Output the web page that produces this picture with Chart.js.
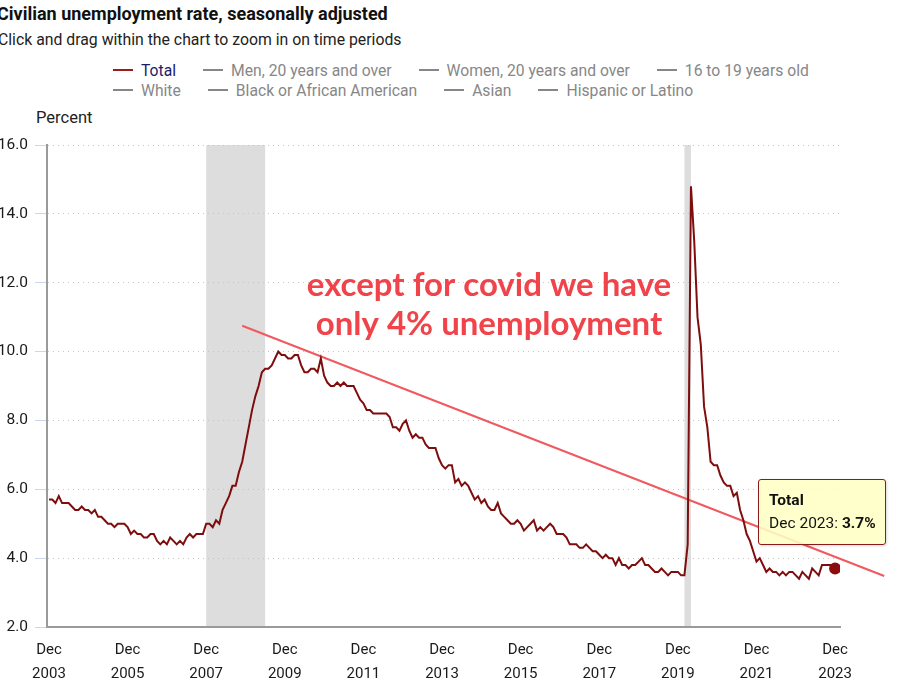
<!DOCTYPE html>
<html>
<head>
<meta charset="utf-8">
<script src="https://cdn.jsdelivr.net/npm/chart.js@4.4.1/dist/chart.umd.min.js"></script>
<style>
  html, body { margin: 0; padding: 0; background: #fff; }
  body { width: 906px; height: 698px; position: relative; overflow: hidden; font-family: Roboto, "Noto Sans", sans-serif; }
  #titulo { position: absolute; left: -3px; top: 3px; font-size: 18px; font-weight: 700; color: #111; white-space: nowrap; }
  #subtitulo { position: absolute; left: -2px; top: 30px; font-size: 15.8px; color: #222; white-space: nowrap; }
  #leyenda { position: absolute; left: 113px; top: 60px; font-size: 15.7px; color: #878787; }
  .fila { display: flex; height: 20px; align-items: center; white-space: nowrap; }
  .item { display: flex; align-items: center; margin-right: 27px; }
  .raya { width: 20px; height: 2px; background: #878787; margin-right: 8px; }
  #unidad { position: absolute; left: 36px; top: 108px; font-size: 16.5px; color: #222; }
  #cv { position: absolute; left: 0; top: 0; }
  #tip { position: absolute; display: none; width: 128px; height: 66px; box-sizing: border-box;
         background: rgba(255,255,196,0.88); border: 1px solid #8b1a1a; border-radius: 3px;
         box-shadow: 1px 1px 3px rgba(0,0,0,0.15); padding: 9px 0 0 10px; font-size: 15.5px; color: #111; line-height: 23px; }
</style>
</head>
<body>
<div id="titulo">Civilian unemployment rate, seasonally adjusted</div>
<div id="subtitulo">Click and drag within the chart to zoom in on time periods</div>
<div id="leyenda"></div>
<div id="unidad">Percent</div>
<canvas id="cv" width="906" height="698"></canvas>
<div id="tip"></div>
<script>
// Tasa de desempleo mensual, dic 2003 – dic 2023 (índice 0 = dic 2003)
const tasa2003 = [5.7];
const tasa2004 = [5.7, 5.6, 5.8, 5.6, 5.6, 5.6, 5.5, 5.4, 5.4, 5.5, 5.4, 5.4];
const tasa2005 = [5.3, 5.4, 5.2, 5.2, 5.1, 5.0, 5.0, 4.9, 5.0, 5.0, 5.0, 4.9];
const tasa2006 = [4.7, 4.8, 4.7, 4.7, 4.6, 4.6, 4.7, 4.7, 4.5, 4.4, 4.5, 4.4];
const tasa2007 = [4.6, 4.5, 4.4, 4.5, 4.4, 4.6, 4.7, 4.6, 4.7, 4.7, 4.7, 5.0];
const tasa2008 = [5.0, 4.9, 5.1, 5.0, 5.4, 5.6, 5.8, 6.1, 6.1, 6.5, 6.8, 7.3];
const tasa2009 = [7.8, 8.3, 8.7, 9.0, 9.4, 9.5, 9.5, 9.6, 9.8, 10.0, 9.9, 9.9];
const tasa2010 = [9.8, 9.8, 9.9, 9.9, 9.6, 9.4, 9.4, 9.5, 9.5, 9.4, 9.8, 9.3];
const tasa2011 = [9.1, 9.0, 9.0, 9.1, 9.0, 9.1, 9.0, 9.0, 9.0, 8.8, 8.6, 8.5];
const tasa2012 = [8.3, 8.3, 8.2, 8.2, 8.2, 8.2, 8.2, 8.1, 7.8, 7.8, 7.7, 7.9];
const tasa2013 = [8.0, 7.7, 7.5, 7.6, 7.5, 7.5, 7.3, 7.2, 7.2, 7.2, 6.9, 6.7];
const tasa2014 = [6.6, 6.7, 6.7, 6.2, 6.3, 6.1, 6.2, 6.1, 5.9, 5.7, 5.8, 5.6];
const tasa2015 = [5.7, 5.5, 5.4, 5.4, 5.6, 5.3, 5.2, 5.1, 5.0, 5.0, 5.1, 5.0];
const tasa2016 = [4.8, 4.9, 5.0, 5.1, 4.8, 4.9, 4.8, 4.9, 5.0, 4.9, 4.7, 4.7];
const tasa2017 = [4.7, 4.6, 4.4, 4.4, 4.4, 4.3, 4.3, 4.4, 4.3, 4.2, 4.2, 4.1];
const tasa2018 = [4.0, 4.1, 4.0, 4.0, 3.8, 4.0, 3.8, 3.8, 3.7, 3.8, 3.8, 3.9];
const tasa2019 = [4.0, 3.8, 3.8, 3.7, 3.6, 3.6, 3.7, 3.6, 3.5, 3.6, 3.6, 3.6];
const tasa2020 = [3.5, 3.5, 4.4, 14.8, 13.2, 11.0, 10.2, 8.4, 7.8, 6.8, 6.7, 6.7];
const tasa2021 = [6.4, 6.2, 6.1, 6.1, 5.8, 5.9, 5.4, 5.1, 4.7, 4.5, 4.2, 3.9];
const tasa2022 = [4.0, 3.8, 3.6, 3.7, 3.6, 3.6, 3.5, 3.6, 3.5, 3.6, 3.6, 3.5];
const tasa2023 = [3.4, 3.6, 3.5, 3.4, 3.7, 3.6, 3.5, 3.8, 3.8, 3.8, 3.8, 3.7];

const tasaTotal = [].concat(tasa2003, tasa2004, tasa2005, tasa2006, tasa2007, tasa2008, tasa2009,
  tasa2010, tasa2011, tasa2012, tasa2013, tasa2014, tasa2015, tasa2016, tasa2017, tasa2018,
  tasa2019, tasa2020, tasa2021, tasa2022, tasa2023);

// Ticks del eje X (meses desde dic 2003) y sus años
const ticksMes  = [0, 24, 48, 72, 96, 120, 144, 168, 192, 216, 240];
const ticksAnio = ["2003", "2005", "2007", "2009", "2011", "2013", "2015", "2017", "2019", "2021", "2023"];
const ticksY    = [2, 4, 6, 8, 10, 12, 14, 16];

// Recesiones (índice de mes inicio / fin)
const recesionIni = [48, 194];
const recesionFin = [66, 196];

// Línea de tendencia dibujada a mano (extremos en meses / %)
const tendenciaX = [59, 255];
const tendenciaY = [10.75, 3.48];

const notaTexto = ["except for covid we have", "only 4% unemployment"];

const seriesLeyenda = [
  ["Total", "Men, 20 years and over", "Women, 20 years and over", "16 to 19 years old"],
  ["White", "Black or African American", "Asian", "Hispanic or Latino"],
];

// --- leyenda HTML ---
document.getElementById("leyenda").innerHTML = seriesLeyenda.map((fila) =>
  `<div class="fila">${fila.map((n) => n === "Total"
    ? `<span class="item"><span class="raya" style="background:#9b1b1b"></span><span style="color:#1c1c6b">${n}</span></span>`
    : `<span class="item"><span class="raya"></span>${n}</span>`).join("")}</div>`).join("");

const bandasPlugin = {
  id: "bandas",
  beforeDraw(chart) {
    const { ctx, chartArea, scales } = chart;
    ctx.save();
    ctx.fillStyle = "#dddddd";
    recesionIni.forEach((ini, i) => {
      const x1 = scales.x.getPixelForValue(ini);
      const x2 = scales.x.getPixelForValue(recesionFin[i]);
      ctx.fillRect(x1, chartArea.top, x2 - x1, chartArea.bottom - chartArea.top);
    });
    ctx.restore();
  },
};

const notaPlugin = {
  id: "nota",
  afterDatasetsDraw(chart) {
    const { ctx } = chart;
    ctx.save();
    ctx.fillStyle = "#f0434a";
    ctx.font = "700 33px Lato, 'Open Sans', sans-serif";
    ctx.textAlign = "center";
    ctx.textBaseline = "alphabetic";
    ctx.fillText(notaTexto[0], 489, 296);
    ctx.fillText(notaTexto[1], 489, 335);
    ctx.restore();
  },
};

const tipEl = document.getElementById("tip");
function tooltipExterno({ chart, tooltip }) {
  if (!tooltip.opacity || !tooltip.dataPoints?.length) { tipEl.style.display = "none"; return; }
  const p = tooltip.dataPoints[0];
  if (p.datasetIndex !== 0) return;
  const anio = 2003 + Math.floor(p.parsed.x / 12);
  tipEl.innerHTML = `<b>Total</b><br>Dec ${anio}: <b>${p.parsed.y.toFixed(1)}%</b>`;
  tipEl.style.display = "block";
  tipEl.style.left = (tooltip.caretX - 77) + "px";
  tipEl.style.top  = (tooltip.caretY - 89) + "px";
}

const ultimo = tasaTotal.length - 1;

const chart = new Chart(document.getElementById("cv").getContext("2d"), {
  type: "line",
  plugins: [bandasPlugin, notaPlugin],
  data: {
    datasets: [
      {
        label: "Total",
        data: tasaTotal.map((v, i) => ({ x: i, y: v })),
        borderColor: "#7e0d0d",
        backgroundColor: "#8b0c0c",
        borderWidth: 2,
        pointRadius: (c) => (c.dataIndex === ultimo ? 6 : 0),
        pointHoverRadius: (c) => (c.dataIndex === ultimo ? 6 : 0),
        pointBorderWidth: 0,
        tension: 0,
      },
      {
        label: "tendencia",
        data: tendenciaX.map((x, i) => ({ x, y: tendenciaY[i] })),
        borderColor: "#f0595e",
        borderWidth: 2,
        pointRadius: 0,
        pointHoverRadius: 0,
        clip: false,
      },
    ],
  },
  options: {
    responsive: false,
    animation: false,
    events: [],
    layout: { padding: { top: 145, right: 66, bottom: 0, left: 0 } },
    plugins: {
      legend: { display: false },
      tooltip: { enabled: false, external: tooltipExterno, mode: "nearest", intersect: false },
    },
    scales: {
      x: {
        type: "linear",
        min: -0.6,
        max: 241.5,
        afterFit: (s) => { s.height = 71; },
        afterBuildTicks: (s) => { s.ticks = ticksMes.map((v) => ({ value: v })); },
        grid: { display: false },
        border: { color: "#9a9a9a", width: 2 },
        ticks: {
          color: "#1a1a1a",
          font: { family: "Roboto", size: 15, lineHeight: 1.55 },
          padding: 4,
          maxRotation: 0,
          autoSkip: false,
          callback: (v) => ["Dec", ticksAnio[ticksMes.indexOf(v)]],
        },
      },
      y: {
        min: 2,
        max: 16,
        afterFit: (s) => { s.width = 47; },
        afterBuildTicks: (s) => { s.ticks = ticksY.map((v) => ({ value: v })); },
        border: { color: "#9a9a9a", width: 2, dash: [1, 4] },
        grid: { color: "#c4c4c4", lineWidth: 1, tickLength: 12, tickColor: "#ccd6eb", tickBorderDash: [] },
        ticks: {
          color: "#1a1a1a",
          font: { family: "Roboto", size: 15.5 },
          padding: 7,
          callback: (v) => v.toFixed(1),
        },
      },
    },
  },
});

chart.tooltip.setActiveElements([{ datasetIndex: 0, index: ultimo }], { x: 0, y: 0 });
chart.update();
</script>
</body>
</html>
